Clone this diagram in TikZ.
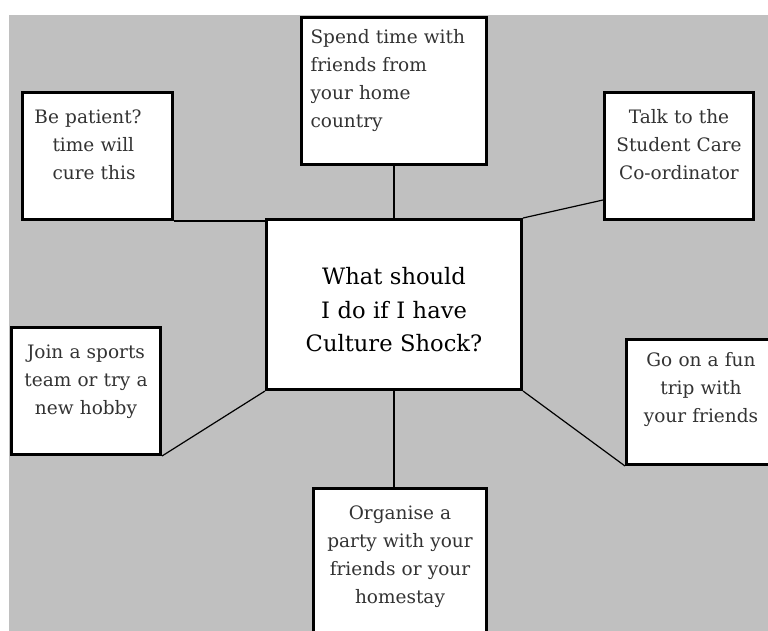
\documentclass[tikz,border=0pt]{standalone}
\usepackage{fontspec}
\setmainfont{DejaVu Serif}
\usetikzlibrary{calc}

\definecolor{bggray}{RGB}{192,192,192}

\tikzset{
  idea/.style = {draw, line width=3pt, fill=white, anchor=north west,
                 inner xsep=0pt, inner ysep=0pt, align=center,
                 text=black!80, font=\fontsize{18.5}{28}\selectfont},
  link/.style = {line width=1.2pt}
}

\begin{document}
\begin{tikzpicture}[x=1pt, y=-1pt]
    \useasboundingbox (0,0) rectangle (768,630);
    \fill [bggray] (9,15) rectangle (780,640);
    % the question in the middle
    \node (shock) [idea, text width=255pt, text height=65pt, text depth=105pt,
        text=black, font=\fontsize{22.6}{33.5}\selectfont] at (265,218)
        {What should\\ I do if I have\\ Culture Shock?};
    % the advice round it
    \node (patient) [idea, text width=150pt, text height=31pt, text depth=96pt, align=left] at (21,91)
        {\hspace*{12pt}Be patient?\\ \hspace*{30pt}time will\\ \hspace*{30pt}cure this};
    \node (spend) [idea, text width=185pt, text height=26pt, text depth=121pt, align=left] at (300,16)
        {\hspace*{9pt}Spend time with\\ \hspace*{9pt}friends from\\ \hspace*{9pt}your home\\ \hspace*{9pt}country};
    \node (talk) [idea, text width=149pt, text height=31pt, text depth=96pt] at (603,91)
        {Talk to the\\ Student Care\\ Co-ordinator};
    \node (join) [idea, text width=149pt, text height=31pt, text depth=96pt] at (10,326)
        {Join a sports\\ team or try a\\ new hobby};
    \node (trip) [idea, text width=149pt, text height=27pt, text depth=98pt] at (625,338)
        {Go on a fun\\ trip with\\ your friends};
    \node (party) [idea, text width=173pt, text height=31pt, text depth=130pt] at (312,487)
        {Organise a\\ party with your\\ friends or your\\ homestay};
    % connectors
    \coordinate (talkfoot) at ([yshift=21pt]talk.south west);
    \draw [link] (patient.south east) -- (patient.south east -| shock.west);
    \draw [link] (spend.south) -- (shock.north);
    \draw [link] (talkfoot) -- (shock.north east);
    \draw [link] (join.south east) -- (shock.south west);
    \draw [link] (shock.south east) -- (trip.south west);
    \draw [link] (shock.south) -- (shock.south |- party.north);
\end{tikzpicture}
\end{document}
